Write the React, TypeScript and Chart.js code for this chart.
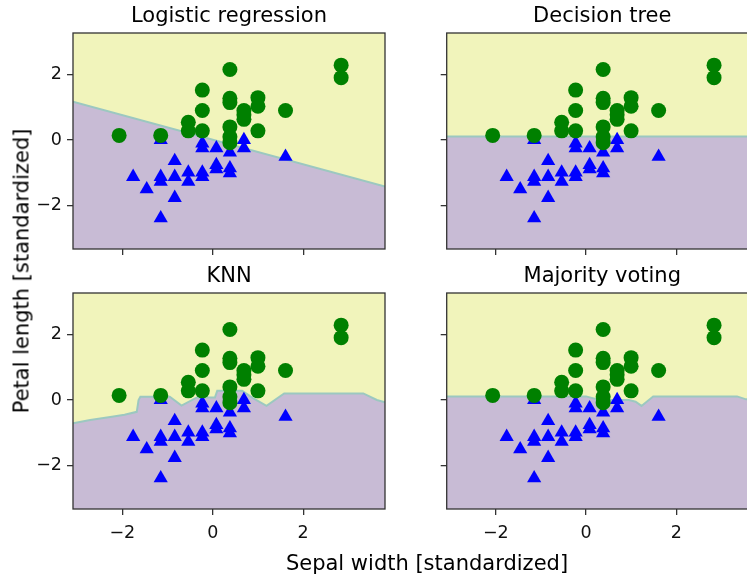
import React, { useEffect, useRef } from 'react';
import { Chart, registerables } from 'chart.js';

Chart.register(...registerables);

const FONT = '"DejaVu Sans", "Liberation Sans", sans-serif';
const YELLOW = '#f1f4bb';
const PURPLE = '#c8bbd5';
const EDGE = '#9cc8c0';
const GREEN = '#008000';
const BLUE = '#0000ff';
const FRAME = '#333333';

const panelTitles = ['Logistic regression', 'Decision tree', 'KNN', 'Majority voting'];
const xLabelText = 'Sepal width [standardized]';
const yLabelText = 'Petal length [standardized]';

const xLimits = [-3.09, 3.81];
const yLimits = [-3.32, 3.26];
const xTickValues = [-2, 0, 2];
const yTickValues = [-2, 0, 2];

// class 1 (green circles)
const greenX = [-2.07, -1.15, -0.54, -0.54, -0.23, -0.23, -0.23, 0.38, 0.38, 0.38, 0.38, 0.38, 0.38, 0.69, 0.69, 0.69, 1.0, 1.0, 1.0, 1.61, 2.84, 2.84];
const greenY = [0.14, 0.14, 0.54, 0.28, 1.52, 0.9, 0.28, 2.15, 1.27, 1.14, 0.4, 0.1, -0.08, 0.9, 0.77, 0.63, 1.29, 1.03, 0.28, 0.9, 2.28, 1.9];

// class 0 (blue triangles)
const blueX = [-1.15, -0.23, -0.23, 0.08, 0.38, 0.69, 0.69, 1.61, -0.84, -1.76, -1.15, -1.15, -0.84, -0.54, -0.54, -0.23, -0.23, 0.08, 0.08, 0.38, 0.38, -1.46, -0.84, -1.15];
const blueY = [0.0, -0.1, -0.25, -0.25, -0.38, 0.0, -0.25, -0.51, -0.64, -1.12, -1.12, -1.27, -1.12, -0.99, -1.27, -0.99, -1.12, -0.76, -0.89, -0.86, -1.01, -1.5, -1.76, -2.38];

// decision boundaries
const lrBoundaryX = [-3.09, 3.81];
const lrBoundaryY = [1.17, -1.42];

const treeBoundaryX = [-3.09, 3.81];
const treeBoundaryY = [0.11, 0.11];

const knnBoundaryX = [-3.09, -2.71, -2.23, -1.95, -1.68, -1.64, -1.6, -0.95, -0.69, -0.35, 0.05, 0.1, 0.65, 0.9, 1.19, 1.58, 3.33, 3.63, 3.81];
const knnBoundaryY = [-0.71, -0.61, -0.51, -0.45, -0.36, 0.0, 0.1, 0.1, -0.17, 0.08, 0.08, 0.28, 0.28, 0.05, -0.18, 0.2, 0.2, 0.0, -0.07];

const voteBoundaryX = [-3.09, 0.0, 0.3, 0.95, 1.1, 1.23, 1.49, 3.35, 3.55, 3.81];
const voteBoundaryY = [0.11, 0.11, 0.0, 0.0, -0.05, -0.18, 0.11, 0.11, 0.02, 0.02];

const fmtTick = (v: number | string) => {
  const n = Number(v);
  return n < 0 ? '\u2212' + Math.abs(n) : String(n);
};

const toPoints = (xs: number[], ys: number[]) => xs.map((x, i) => ({ x, y: ys[i] }));

type PanelProps = {
  title: string;
  bx: number[];
  by: number[];
  left: number;
  top: number;
  width: number;
  height: number;
  yAxisWidth: number;
  xAxisHeight: number;
  padRight: number;
  padBottom: number;
  showXLabels: boolean;
  showYLabels: boolean;
};

function Panel(p: PanelProps) {
  const ref = useRef<HTMLCanvasElement>(null);
  useEffect(() => {
    if (!ref.current) return;
    const boundary = toPoints(p.bx, p.by);
    const framePlugin = {
      id: 'frame',
      afterDatasetsDraw(chart: any) {
        const { ctx, chartArea: a } = chart;
        ctx.save();
        ctx.strokeStyle = FRAME;
        ctx.lineWidth = 1.3;
        ctx.strokeRect(a.left, a.top, a.right - a.left, a.bottom - a.top);
        ctx.restore();
      },
    };
    const chart = new Chart(ref.current, {
      type: 'scatter',
      data: {
        datasets: [
          {
            label: 'class 1',
            data: toPoints(greenX, greenY),
            pointStyle: 'circle',
            pointRadius: 7.5,
            backgroundColor: GREEN,
            borderWidth: 0,
            order: 0,
          },
          {
            label: 'class 0',
            data: toPoints(blueX, blueY),
            pointStyle: 'triangle',
            pointRadius: 8.2,
            backgroundColor: BLUE,
            borderWidth: 0,
            order: 1,
          },
          {
            label: 'boundary',
            data: boundary,
            showLine: true,
            pointRadius: 0,
            borderColor: EDGE,
            borderWidth: 2,
            tension: 0,
            fill: 'start',
            backgroundColor: PURPLE,
            order: 2,
          },
          {
            label: 'upper region',
            data: boundary,
            showLine: true,
            pointRadius: 0,
            borderColor: 'rgba(0,0,0,0)',
            borderWidth: 1,
            tension: 0,
            fill: 'end',
            backgroundColor: YELLOW,
            order: 3,
          },
        ] as any,
      },
      options: {
        animation: false,
        responsive: false,
        events: [],
        layout: { padding: { left: 0, top: 0, right: p.padRight, bottom: p.padBottom } },
        plugins: {
          legend: { display: false },
          tooltip: { enabled: false },
          title: {
            display: true,
            text: p.title,
            fullSize: false,
            color: '#000',
            font: { family: FONT, size: 21, weight: 'normal', lineHeight: 1.2 },
            padding: { top: 4, bottom: 3.8 },
          },
        },
        scales: {
          x: {
            type: 'linear',
            position: 'bottom',
            min: xLimits[0],
            max: xLimits[1],
            afterBuildTicks: (s: any) => {
              s.ticks = xTickValues.map((v) => ({ value: v }));
            },
            afterFit: (s: any) => {
              s.height = p.xAxisHeight;
              s.paddingLeft = 0;
              s.paddingRight = 0;
              s.paddingTop = 0;
              s.paddingBottom = 0;
            },
            grid: { drawOnChartArea: false, drawTicks: true, tickLength: 6, color: FRAME, lineWidth: 1.3 },
            border: { display: false },
            ticks: {
              display: p.showXLabels,
              padding: 8,
              color: '#111',
              font: { family: FONT, size: 17.5 },
              maxRotation: 0,
              autoSkip: false,
              callback: fmtTick,
            },
          },
          y: {
            type: 'linear',
            position: 'left',
            min: yLimits[0],
            max: yLimits[1],
            afterBuildTicks: (s: any) => {
              s.ticks = yTickValues.map((v) => ({ value: v }));
            },
            afterFit: (s: any) => {
              s.width = p.yAxisWidth;
              s.paddingLeft = 0;
              s.paddingRight = 0;
              s.paddingTop = 0;
              s.paddingBottom = 0;
            },
            grid: { drawOnChartArea: false, drawTicks: true, tickLength: 6, color: FRAME, lineWidth: 1.3 },
            border: { display: false },
            ticks: {
              display: p.showYLabels,
              padding: 5,
              color: '#111',
              font: { family: FONT, size: 17.5 },
              autoSkip: false,
              callback: fmtTick,
            },
          },
        },
      } as any,
      plugins: [framePlugin],
    });
    return () => chart.destroy();
  }, []);
  return (
    <canvas
      ref={ref}
      width={p.width}
      height={p.height}
      style={{ position: 'absolute', left: p.left, top: p.top, width: p.width, height: p.height, display: 'block' }}
    />
  );
}

export default function App() {
  return (
    <div
      style={{
        position: 'fixed',
        left: 0,
        top: 0,
        width: 747,
        height: 575,
        overflow: 'hidden',
        background: '#fff',
      }}
    >
      <Panel title={panelTitles[0]} bx={lrBoundaryX} by={lrBoundaryY} left={0} top={0} width={400} height={260}
        yAxisWidth={73} xAxisHeight={10} padRight={15} padBottom={1} showXLabels={false} showYLabels={true} />
      <Panel title={panelTitles[1]} bx={treeBoundaryX} by={treeBoundaryY} left={400} top={0} width={372} height={260}
        yAxisWidth={46.7} xAxisHeight={10} padRight={14.2} padBottom={1} showXLabels={false} showYLabels={false} />
      <Panel title={panelTitles[2]} bx={knnBoundaryX} by={knnBoundaryY} left={0} top={260} width={400} height={315}
        yAxisWidth={73} xAxisHeight={50} padRight={15} padBottom={16} showXLabels={true} showYLabels={true} />
      <Panel title={panelTitles[3]} bx={voteBoundaryX} by={voteBoundaryY} left={400} top={260} width={372} height={315}
        yAxisWidth={46.7} xAxisHeight={50} padRight={14.2} padBottom={16} showXLabels={true} showYLabels={false} />
      <div
        style={{
          position: 'absolute',
          left: 427,
          top: 563,
          transform: 'translate(-50%, -50%)',
          whiteSpace: 'nowrap',
          fontFamily: FONT,
          fontSize: 21,
          color: '#000',
          lineHeight: 1,
        }}
      >
        {xLabelText}
      </div>
      <div
        style={{
          position: 'absolute',
          left: 22,
          top: 271,
          transform: 'translate(-50%, -50%) rotate(-90deg)',
          whiteSpace: 'nowrap',
          fontFamily: FONT,
          fontSize: 21,
          color: '#000',
          lineHeight: 1,
        }}
      >
        {yLabelText}
      </div>
    </div>
  );
}
